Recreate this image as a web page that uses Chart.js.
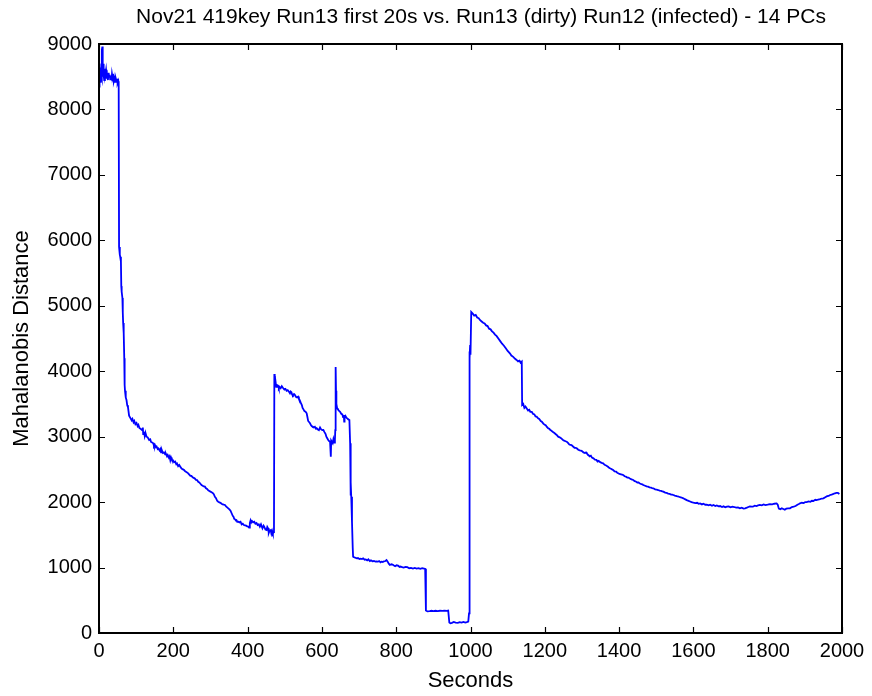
<!DOCTYPE html>
<html>
<head>
<meta charset="utf-8">
<title>Mahalanobis Distance</title>
<script src="https://cdn.jsdelivr.net/npm/chart.js@4/dist/chart.umd.min.js"></script>
<style>
  html, body { margin: 0; padding: 0; background: #ffffff; }
  #wrap { width: 872px; height: 696px; }
</style>
</head>
<body>
<div id="wrap"><canvas id="chart" width="872" height="696"></canvas></div>
<script>
const chartTitle = 'Nov21 419key Run13 first 20s vs. Run13 (dirty) Run12 (infected) - 14 PCs';
const xTitle = 'Seconds';
const yTitle = 'Mahalanobis Distance';
const xTicks = [0, 200, 400, 600, 800, 1000, 1200, 1400, 1600, 1800, 2000];
const yTicks = [0, 1000, 2000, 3000, 4000, 5000, 6000, 7000, 8000, 9000];

// time stamps (s)
const seconds = [
  0,1,2,3,4,5,6,7,8,9,10,11,12,13,14,16,18,19,21,22,24,26,27,29,30,32,34,35,37,39,40,42,44,45,47,49,50,52,53,
  54,56,57,59,60,61,63,64,65,66,67,68,69,70,72,74,76,78,81,85,88,90,93,95,98,101,104,106,109,112,116,118,119,121,123,125,128,131,135,138,140,143,146,148,150,153,155,158,160,163,165,167,169,172,175,178,180,183,185,188,190,192,194,196,199,202,205,208,210,213,216,220,223,226,229,232,235,238,240,243,246,249,252,255,258,261,264,267,270,273,276,279,282,285,288,291,294,297,300,303,306,309,312,315,318,321,324,327,330,333,336,339,342,345,348,351,354,357,360,362,364,366,368,370,372,375,378,381,384,387,390,393,396,399,402,404,406,408,410,412,415,418,421,424,427,430,433,436,438,440,443,445,448,451,453,455,457,459,462,464,466,468,470,471,
  472,473,475,477,479,482,484,486,489,492,496,499,502,505,508,511,514,516,518,520,522,525,527,530,533,536,538,540,543,546,548,550,553,556,559,561,563,566,568,571,573,576,578,581,584,586,589,592,595,598,601,604,607,610,612,614,617,620,622,624,625,627,629,631,633,635,636,637,638,639,641,643,645,647,649,652,655,657,659,660,661,663,666,668,670,672,674,676,677,678,679,681,683,684,
  686,690,694,697,701,704,708,711,715,718,722,725,729,732,736,740,744,747,751,754,758,760,764,767,771,774,777,780,783,787,790,794,797,801,805,809,812,816,820,825,830,835,840,845,850,855,860,865,870,875,878,
  880,884,890,895,900,906,912,918,924,930,936,940,943,946,950,955,960,966,971,976,981,986,990,994,996,
  997,998,999,1000,1002,1006,1010,1014,1018,1022,1026,1030,1034,1038,1042,1046,1050,1054,1058,1062,1066,1070,1075,1080,1085,1090,1095,1100,1106,1110,1115,1120,1124,1128,1132,1135,1138,
  1139,1142,1145,1148,1151,1155,1158,1161,1165,1168,1172,1175,1178,1182,1185,1189,1192,1196,1200,1203,1205,1209,1212,1215,1218,1222,1225,1229,1232,1236,1240,1243,1245,1249,1252,1256,1259,1263,1266,1269,1272,1276,1280,1283,1286,1290,1294,1297,1300,1304,1308,1311,1313,1317,1321,1324,1327,1331,1335,1339,1342,1345,1349,1353,1357,1361,1365,1368,1370,1374,1378,1381,1384,1388,1392,1395,1397,1401,1405,1408,1411,1415,1418,1422,1425,1429,1432,1435,1438,1442,1445,1449,1452,1456,1460,1463,1465,1470,1474,1478,1482,1486,1489,1492,1497,1501,1505,1509,1513,1516,1519,1524,1528,1532,1536,1540,1543,1546,1550,1555,1560,1564,1568,1573,1577,1582,1587,1591,1595,1600,
  1605,1610,1614,1618,1623,1627,1632,1636,1641,1645,1650,1654,1659,1663,1668,1672,1677,1681,1686,1690,1695,1700,1705,1710,1715,1720,1725,1730,1735,1739,1744,1748,1752,1757,1760,1765,1770,1774,1779,1784,1789,1794,1800,1806,1812,1818,1824,1827,1830,1834,1838,1842,1846,1850,1855,1860,1865,1870,1875,1880,1884,1887,1892,1897,1901,1905,1910,1915,1919,1923,1928,1932,1936,1941,1946,1950,1955,1960,1964,1968,1972,1977,1981,1985,1989,1993
];

// Mahalanobis distance at each time stamp
const distance = [
  8350,8620,8700,8420,8450,8640,8520,8480,8900,8960,8500,8560,8700,8520,8450,8620,8560,8600,8470,8520,8450,8560,8500,8530,8460,8480,8460,8540,8470,8500,8430,8470,8420,8480,8440,8450,8400,8430,8370,
  5900,5780,5750,5675,5300,5215,5119,4900,4737,4650,4584,4200,3790,3700,3600,3560,3480,3450,3320,3280,3250,3270,3220,3240,3190,3209,3160,3180,3130,3120,3100,3140,3040,3076,3010,3060,3000,2990,2950,2960,2920,2910,2899,2860,2880,2840,2850,2810,2820,2790,2810,2760,2796,2750,2760,2730,2740,2700,2720,2680,2700,2640,2680,2650,2640,2610,2620,2580,2590,2550,2567,2530,2510,2500,2490,2470,2460,2450,2440,2420,2400,2400,2380,2370,2360,2340,2338,2310,2300,2280,2260,2250,2240,2236,2210,2200,2180,2170,2160,2150,2140,2120,2080,2060,2020,2007,1995,1990,1975,1965,1960,1956,1935,1920,1905,1890,1870,1830,1790,1778,1745,1740,1720,1725,1700,1701,1690,1700,1660,1670,1650,1645,1640,1630,1625,1610,1680,1720,1690,1710,1690,1700,1670,1680,1650,1660,1625,1660,1630,1600,1640,1620,1580,1574,1620,1600,1530,1560,1570,1520,1560,1520,1540,1548,
  3958,3800,3850,3760,3790,3780,3740,3760,3740,3770,3739,3720,3730,3700,3710,3690,3663,3690,3680,3640,3630,3650,3640,3610,3600,3612,3580,3560,3520,3484,3440,3420,3390,3380,3357,3300,3240,3220,3204,3170,3160,3150,3140,3150,3120,3128,3110,3100,3140,3110,3100,3102,3070,3040,3000,2980,2949,2930,2920,2694,2940,2920,2900,2960,2910,2949,3100,4065,3700,3500,3434,3420,3400,3390,3380,3350,3340,3300,3331,3229,3310,3320,3290,3280,3270,3260,3255,2900,2100,2300,2083,1700,1300,1166,
  1160,1150,1140,1145,1130,1135,1130,1141,1120,1125,1110,1125,1100,1110,1095,1100,1090,1095,1090,1100,1080,1090,1085,1095,1100,1115,1090,1060,1039,1050,1045,1030,1020,1035,1030,1010,1015,1005,1000,1010,1005,990,995,985,995,985,990,980,990,985,980,
  345,330,335,340,335,340,335,340,338,340,338,342,160,150,155,170,160,155,165,160,170,160,165,173,300,
  4300,4200,4400,4250,4905,4880,4850,4860,4820,4810,4780,4760,4740,4730,4700,4690,4650,4640,4610,4590,4560,4540,4500,4460,4420,4390,4350,4310,4274,4240,4220,4190,4172,4150,4160,4130,4146,
  3484,3500,3440,3460,3434,3400,3410,3380,3380,3350,3340,3310,3306,3280,3270,3240,3230,3200,3180,3170,3153,3130,3120,3100,3090,3070,3060,3040,3026,3000,2990,2980,2970,2950,2940,2930,2923,2900,2880,2875,2870,2850,2830,2830,2822,2800,2790,2785,2780,2760,2750,2760,2745,2720,2700,2710,2680,2669,2650,2645,2620,2630,2610,2600,2593,2570,2560,2550,2540,2520,2510,2500,2491,2470,2465,2450,2450,2430,2425,2420,2414,2395,2390,2375,2375,2360,2350,2345,2338,2320,2315,2300,2300,2285,2275,2270,2262,2250,2240,2235,2225,2220,2215,2211,2195,2190,2185,2175,2170,2165,2160,2145,2140,2130,2125,2115,2115,2109,2100,2090,2085,2075,2070,2058,2045,2030,2020,2010,2000,1991,
  1985,1990,1975,1981,1965,1975,1960,1960,1950,1960,1945,1956,1940,1950,1935,1940,1925,1935,1920,1930,1935,1920,1930,1925,1915,1920,1905,1915,1900,1905,1915,1925,1935,1930,1930,1945,1940,1950,1956,1950,1965,1955,1960,1970,1965,1975,1981,1960,1900,1890,1905,1895,1885,1900,1905,1905,1925,1930,1940,1960,1970,1981,1990,1985,2000,2000,2010,2005,2020,2017,2035,2030,2040,2045,2055,2058,2075,2090,2095,2109,2115,2125,2135,2140,2140,2124
];

const points = seconds.map((s, i) => ({ x: s, y: distance[i] }));

const FONT = "'Liberation Sans', Arial, Helvetica, sans-serif";

// figure title, centred a little right of the plot centre
const headerPlugin = {
  id: 'header',
  afterDraw(chart) {
    const { ctx } = chart;
    ctx.save();
    ctx.fillStyle = '#000';
    ctx.font = '21px ' + FONT;
    ctx.textAlign = 'center';
    ctx.textBaseline = 'middle';
    ctx.fillText(chartTitle, 481, 17);
    ctx.restore();
  }
};

// box around the plot area with inward tick marks on all four sides
const framePlugin = {
  id: 'frame',
  afterDraw(chart) {
    const { ctx, chartArea: a, scales } = chart;
    const len = 6;
    ctx.save();
    ctx.strokeStyle = '#000';
    ctx.lineWidth = 1.2;
    ctx.beginPath();
    xTicks.forEach(v => {
      const px = Math.round(scales.x.getPixelForValue(v)) + 0.5;
      ctx.moveTo(px, a.bottom); ctx.lineTo(px, a.bottom - len);
      ctx.moveTo(px, a.top); ctx.lineTo(px, a.top + len);
    });
    yTicks.forEach(v => {
      const py = Math.round(scales.y.getPixelForValue(v)) + 0.5;
      ctx.moveTo(a.left, py); ctx.lineTo(a.left + len, py);
      ctx.moveTo(a.right, py); ctx.lineTo(a.right - len, py);
    });
    ctx.stroke();
    ctx.lineWidth = 2;
    ctx.strokeRect(a.left, a.top, a.right - a.left, a.bottom - a.top);
    ctx.restore();
  }
};

const plain = v => String(v);

new Chart(document.getElementById('chart'), {
  type: 'line',
  data: {
    datasets: [{
      data: points,
      borderColor: '#0000ff',
      borderWidth: 1.8,
      pointRadius: 0,
      tension: 0,
      fill: false
    }]
  },
  options: {
    responsive: false,
    animation: false,
    parsing: false,
    layout: { padding: { left: 0, right: 30, top: 44, bottom: 0 } },
    plugins: {
      legend: { display: false },
      tooltip: { enabled: false },
      title: { display: false }
    },
    scales: {
      x: {
        type: 'linear',
        min: 0, max: 2000,
        afterFit(scale) { scale.height = 63; },
        afterBuildTicks(scale) { scale.ticks = xTicks.map(v => ({ value: v })); },
        grid: { display: false, drawTicks: false },
        border: { display: false },
        ticks: { color: '#000', padding: 6, maxRotation: 0, autoSkip: false, callback: plain, font: { family: FONT, size: 20 } },
        title: { display: true, text: xTitle, color: '#000', font: { family: FONT, size: 22 }, padding: { top: 0, bottom: 2 } }
      },
      y: {
        type: 'linear',
        min: 0, max: 9000,
        afterFit(scale) { scale.width = 99; },
        afterBuildTicks(scale) { scale.ticks = yTicks.map(v => ({ value: v })); },
        grid: { display: false, drawTicks: false },
        border: { display: false },
        ticks: { color: '#000', padding: 7, autoSkip: false, callback: plain, font: { family: FONT, size: 20 } },
        title: { display: true, text: yTitle, color: '#000', font: { family: FONT, size: 22 }, padding: { top: 9, bottom: 0 } }
      }
    }
  },
  plugins: [headerPlugin, framePlugin]
});
</script>
</body>
</html>
